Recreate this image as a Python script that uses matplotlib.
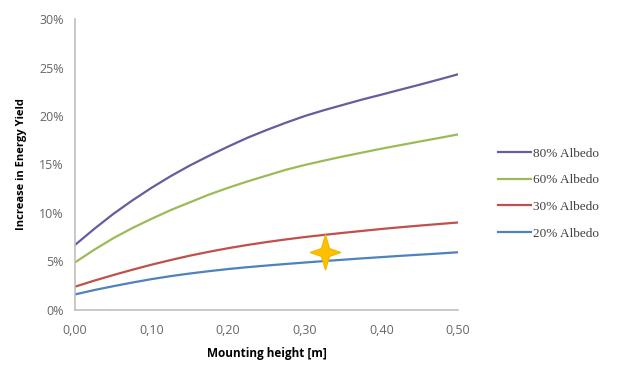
import matplotlib.pyplot as plt
from matplotlib.path import Path
from matplotlib.ticker import FuncFormatter, MultipleLocator

# mounting height [m]
height = [0.000, 0.025, 0.050, 0.075, 0.100, 0.125, 0.150, 0.175, 0.200, 0.225, 0.250,
          0.275, 0.300, 0.325, 0.350, 0.375, 0.400, 0.425, 0.450, 0.475, 0.500]

# increase in energy yield [%]
albedo_80 = [6.7, 8.35, 9.9, 11.3, 12.6, 13.8, 14.9, 15.9, 16.85, 17.75, 18.55,
             19.3, 20.0, 20.6, 21.15, 21.7, 22.2, 22.72, 23.23, 23.76, 24.3]
albedo_60 = [4.9, 6.2, 7.4, 8.45, 9.4, 10.3, 11.1, 11.9, 12.6, 13.25, 13.85,
             14.45, 14.95, 15.4, 15.83, 16.23, 16.63, 17.0, 17.37, 17.73, 18.1]
albedo_30 = [2.4, 3.02, 3.6, 4.15, 4.67, 5.15, 5.6, 6.0, 6.37, 6.7, 7.0,
             7.27, 7.52, 7.74, 7.95, 8.15, 8.35, 8.53, 8.7, 8.86, 9.02]
albedo_20 = [1.6, 2.05, 2.45, 2.83, 3.18, 3.49, 3.76, 4.0, 4.22, 4.41, 4.58,
             4.74, 4.89, 5.04, 5.18, 5.32, 5.45, 5.58, 5.7, 5.82, 5.95]

labels = ['80% Albedo', '60% Albedo', '30% Albedo', '20% Albedo']
colors = ['#6A5B9C', '#9BBB59', '#C0504D', '#4F81BD']

star_x = [0.327]
star_y = [6.0]

# four-pointed star marker shape
k = 0.26
star = Path([(0, 1.15), (k, k), (1, 0), (k, -k), (0, -1.15), (-k, -k), (-1, 0), (-k, k), (0, 1.15)],
            closed=True)

fig = plt.figure(figsize=(6.3, 3.73), dpi=100)
ax = fig.add_axes((0.119, 0.169, 0.608, 0.78))

for vals, lab, col in zip([albedo_80, albedo_60, albedo_30, albedo_20], labels, colors):
    ax.plot(height, vals, color=col, lw=1.6, label=lab)

ax.plot(star_x, star_y, marker=star, markersize=25, color='#FFC000',
        markeredgecolor='#F5B800', linestyle='none', zorder=5)

ax.set_xlim(0, 0.5)
ax.set_ylim(0, 30)
ax.xaxis.set_major_locator(MultipleLocator(0.1))
ax.yaxis.set_major_locator(MultipleLocator(5))
ax.xaxis.set_major_formatter(FuncFormatter(lambda v, p: f'{v:.2f}'.replace('.', ',')))
ax.yaxis.set_major_formatter(FuncFormatter(lambda v, p: f'{v:.0f}%'))

for s in ['top', 'right']:
    ax.spines[s].set_visible(False)
for s in ['left', 'bottom']:
    ax.spines[s].set_color('#BFBFBF')
    ax.spines[s].set_linewidth(1.2)

ax.tick_params(length=0, labelsize=9, labelcolor='#666666', pad=8, labelfontfamily='Open Sans')
ax.tick_params(axis='x', pad=10)

ax.set_xlabel('Mounting height [m]', fontsize=8.5, fontweight='bold', family='Open Sans', labelpad=7)
ax.set_ylabel('Increase in Energy Yield', fontsize=8, fontweight='bold', family='Open Sans', labelpad=9)

fig.legend(loc='upper left', bbox_to_anchor=(0.772, 0.637), frameon=False,
           prop={'family': 'Liberation Serif', 'size': 9.5}, handlelength=2.5,
           handletextpad=0.1, labelspacing=1.1, labelcolor='#404040')

fig.savefig('out.png', dpi=100)
